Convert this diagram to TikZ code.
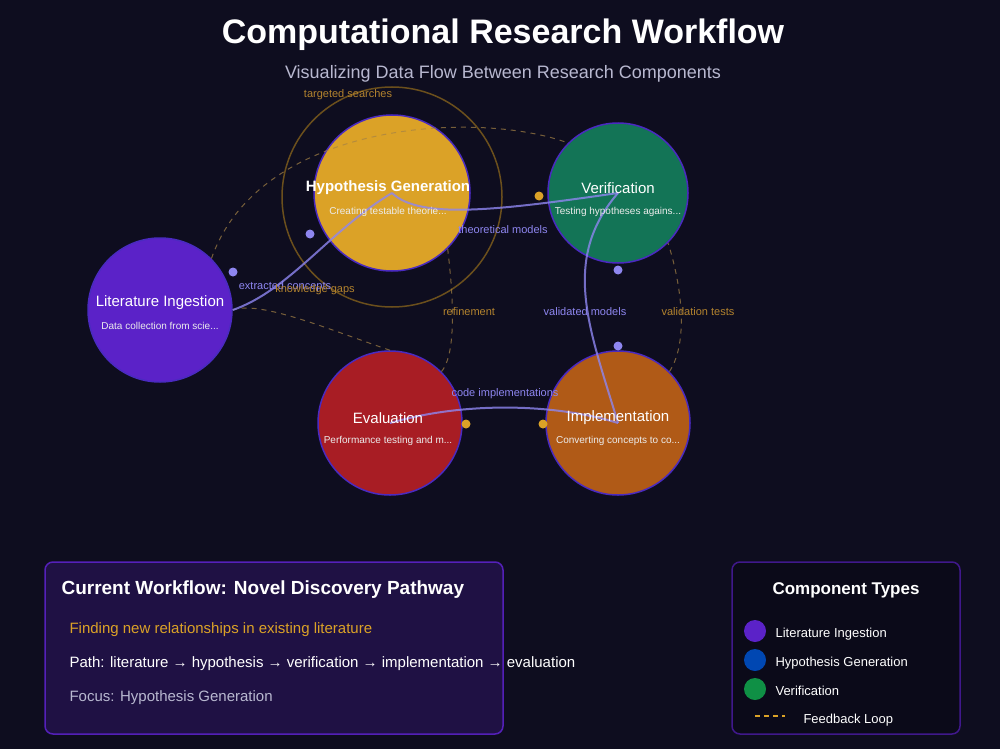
\documentclass[tikz,border=0pt]{standalone}
\usepackage{fontspec}
\setmainfont{Liberation Sans}
\usetikzlibrary{positioning, arrows.meta}
\definecolor{bgdark}{HTML}{0E0D1F}
\definecolor{litcol}{HTML}{5B22C8}
\definecolor{hypcol}{HTML}{DBA227}
\definecolor{vercol}{HTML}{137456}
\definecolor{evalcol}{HTML}{A81D24}
\definecolor{implcol}{HTML}{B05A17}
\definecolor{rimcol}{HTML}{4A2AC0}
\definecolor{flowcol}{HTML}{8E86F0}
\definecolor{fbcol}{HTML}{B3832E}
\definecolor{subcol}{HTML}{B8B8D0}
\tikzstyle{comp} = [circle, draw=rimcol, line width=1.5pt, text=white, align=center, inner sep=0pt]
\tikzstyle{flow} = [draw=flowcol, line width=2pt, opacity=0.8]
\tikzstyle{feedback} = [draw=fbcol!70!gray, line width=1pt, dash pattern=on 5pt off 5pt, opacity=0.7]
\tikzstyle{flowlabel} = [text=flowcol, font=\fontsize{11}{13}\selectfont]
\tikzstyle{fblabel} = [text=fbcol, font=\fontsize{11}{13}\selectfont]
\tikzstyle{port} = [circle, inner sep=0pt, minimum size=9pt]
\tikzstyle{legdot} = [circle, inner sep=0pt, minimum size=22pt]
\begin{document}
\begin{tikzpicture}[x=1pt, y=-1pt]
    % background
    \fill[bgdark] (0,0) rectangle (1000,749);
    \useasboundingbox (0,0) rectangle (1000,749);

    % title
    \node[text=white, font=\bfseries\fontsize{34}{40}\selectfont] (title) at (503,35) {Computational Research Workflow};
    \node[text=subcol, font=\fontsize{18}{22}\selectfont] (subtitle) at (503,74) {Visualizing Data Flow Between Research Components};

    % halo around focus
    \draw[fbcol!60!black, line width=1.5pt] (392,197) circle (110);

    % components
    \node[comp, fill=litcol, minimum size=144pt] (lit) at (160,310) {};
    \node[comp, fill=hypcol, minimum size=156pt] (hyp) at (392,193) {};
    \node[comp, fill=vercol, minimum size=140pt] (ver) at (618,193) {};
    \node[comp, fill=evalcol, minimum size=144pt] (eval) at (390,423) {};
    \node[comp, fill=implcol, minimum size=144pt] (impl) at (618,423) {};

    % feedback loops
    \draw[feedback] (lit.north east) .. controls (260,120) and (480,110) .. (ver.north west);
    \draw[feedback] (eval.north) .. controls (330,330) and (260,300) .. (lit.east);
    \draw[feedback] (eval.north east) .. controls (460,350) and (450,270) .. (hyp.south east);
    \draw[feedback] (impl.north east) .. controls (690,340) and (680,280) .. (ver.south east);

    % data flows
    \draw[flow] (lit.east) .. controls (290,290) and (330,230) .. (hyp.center);
    \draw[flow] (hyp.center) .. controls (420,220) and (500,210) .. (ver.center);
    \draw[flow] (ver.center) .. controls (560,260) and (590,330) .. (impl.center);
    \draw[flow] (impl.center) .. controls (560,405) and (470,400) .. (eval.center);

    % ports
    \node[port, fill=flowcol] (p1) at (233,272) {};
    \node[port, fill=flowcol] (p2) at (310,234) {};
    \node[port, fill=hypcol] (p3) at (539,196) {};
    \node[port, fill=flowcol] (p4) at (618,270) {};
    \node[port, fill=flowcol] (p5) at (618,346) {};
    \node[port, fill=hypcol] (p6) at (466,424) {};
    \node[port, fill=hypcol] (p7) at (543,424) {};

    % component labels
    \node[text=white, font=\fontsize{15}{18}\selectfont] (litt) at (160,303) {Literature Ingestion};
    \node[text=white!85!gray, font=\fontsize{10}{12}\selectfont] (lits) at (160,326) {Data collection from scie...};
    \node[text=white, font=\bfseries\fontsize{15}{18}\selectfont] (hypt) at (388,188) {Hypothesis Generation};
    \node[text=white!85!gray, font=\fontsize{10}{12}\selectfont] (hyps) at (388,212) {Creating testable theorie...};
    \node[text=white, font=\fontsize{15}{18}\selectfont] (vert) at (618,188) {Verification};
    \node[text=white!85!gray, font=\fontsize{10}{12}\selectfont] (vers) at (618,212) {Testing hypotheses agains...};
    \node[text=white, font=\fontsize{15}{18}\selectfont] (evalt) at (388,418) {Evaluation};
    \node[text=white!85!gray, font=\fontsize{10}{12}\selectfont] (evals) at (388,441) {Performance testing and m...};
    \node[text=white, font=\fontsize{15}{18}\selectfont] (implt) at (618,418) {Implementation};
    \node[text=white!85!gray, font=\fontsize{10}{12}\selectfont] (impls) at (618,441) {Converting concepts to co...};

    % connector labels
    \node[fblabel] (l1) at (348,95) {targeted searches};
    \node[flowlabel] (l2) at (285,287) {extracted concepts};
    \node[fblabel] (l3) at (315,290) {knowledge gaps};
    \node[flowlabel] (l4) at (503,230) {theoretical models};
    \node[fblabel] (l5) at (469,312) {refinement};
    \node[flowlabel] (l6) at (585,312) {validated models};
    \node[fblabel] (l7) at (698,312) {validation tests};
    \node[flowlabel] (l8) at (505,394) {code implementations};

    % current workflow panel
    \node[draw=litcol, fill=litcol!25!bgdark, rounded corners=8pt, line width=1.5pt,
          minimum width=458pt, minimum height=172pt, opacity=0.9] (panel) at (274,648) {};
    \node[text=white, font=\bfseries\fontsize{19}{22}\selectfont, anchor=west] (ptitle) at (58,590) {Current Workflow: Novel Discovery Pathway};
    \node[text=hypcol, font=\fontsize{15}{18}\selectfont, anchor=west] (pdesc) at (66,630) {Finding new relationships in existing literature};
    \node[text=white, font=\fontsize{15}{18}\selectfont, anchor=west] (ppath) at (66,664) {Path: literature → hypothesis → verification → implementation → evaluation};
    \node[text=subcol, font=\fontsize{15}{18}\selectfont, anchor=west] (pfocus) at (66,698) {Focus: Hypothesis Generation};

    % legend
    \node[draw=litcol!70!black, fill=bgdark!80!black, rounded corners=8pt, line width=1.5pt,
          minimum width=228pt, minimum height=172pt] (legend) at (846,648) {};
    \node[text=white, font=\bfseries\fontsize{17}{20}\selectfont] (ltitle) at (846,590) {Component Types};
    \node[legdot, fill=litcol] (d1) at (755,631) {};
    \node[legdot, fill=blue!60!cyan!70!black] (d2) at (755,660) {};
    \node[legdot, fill=vercol!80!green] (d3) at (755,689) {};
    \node[text=white, font=\fontsize{13}{16}\selectfont, anchor=west] (t1) at (772,634) {Literature Ingestion};
    \node[text=white, font=\fontsize{13}{16}\selectfont, anchor=west] (t2) at (772,663) {Hypothesis Generation};
    \node[text=white, font=\fontsize{13}{16}\selectfont, anchor=west] (t3) at (772,691) {Verification};
    \coordinate (f1) at (755,716);
    \coordinate (f2) at (785,716);
    \draw[draw=hypcol, line width=1.5pt, dash pattern=on 5pt off 4pt] (f1) -- (f2);
    \node[text=white, font=\fontsize{13}{16}\selectfont, anchor=west] (t4) at (800,720) {Feedback Loop};
\end{tikzpicture}
\end{document}
